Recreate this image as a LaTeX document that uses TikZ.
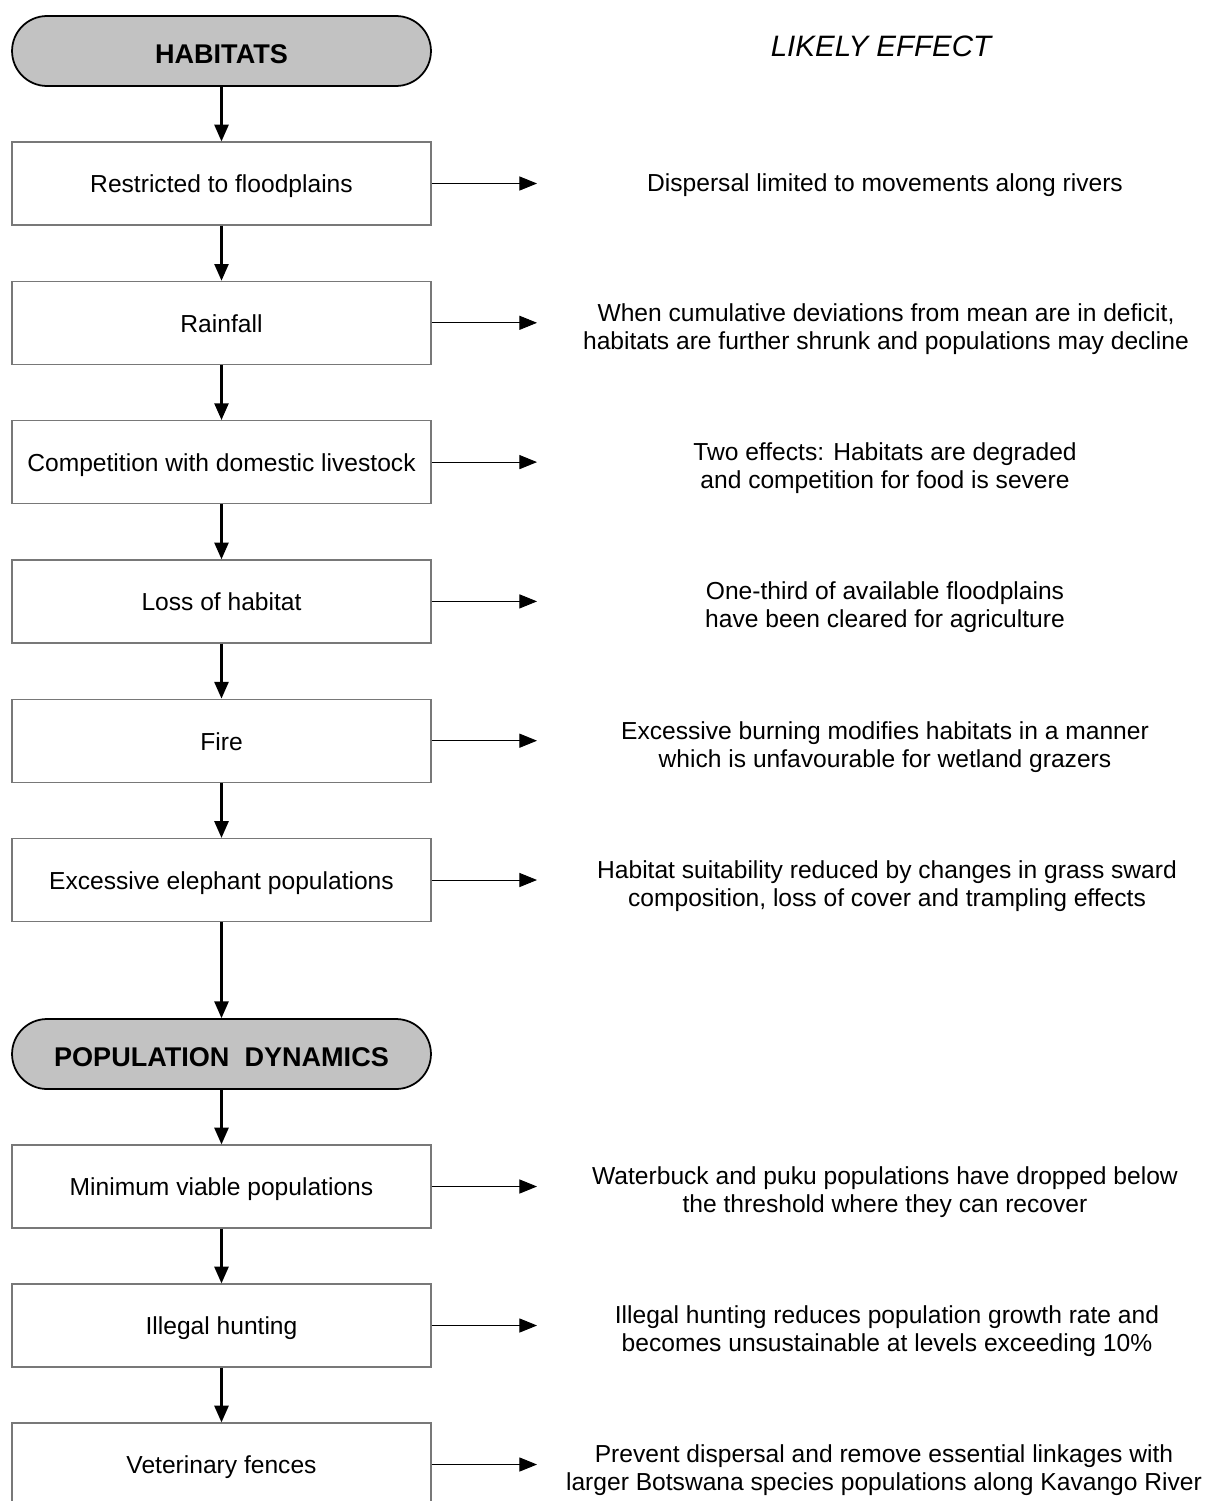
\documentclass[tikz,border=0pt]{standalone}
\usepackage{fontspec}
\setmainfont{Liberation Sans}
\usepackage{tikz}
\usetikzlibrary{arrows.meta, positioning}
\definecolor{pillgray}{RGB}{194, 194, 194}
\definecolor{boxline}{RGB}{120, 120, 120}
\tikzstyle{factor} = [rectangle, draw=boxline, line width=0.7pt, minimum width=8.38cm, minimum height=1.66cm, text centered, text height=12pt, text depth=1.3pt, font=\fontsize{14}{16}\selectfont]
\tikzstyle{heading} = [rectangle, rounded corners=0.7cm, draw=black, line width=1pt, fill=pillgray, minimum width=8.38cm, minimum height=1.4cm, text centered, text height=14.5pt, text depth=0pt, font=\fontsize{15.4}{18}\selectfont\bfseries]
\tikzstyle{effect} = [align=center, inner sep=0pt, font=\fontsize{14}{16}\selectfont]
\tikzstyle{arrow} = [line width=1.3pt, -{Triangle[length=9.5pt, width=8pt]}]
\tikzstyle{sidearrow} = [line width=0.5pt, -{Triangle[length=10pt, width=8pt]}]

\begin{document}
\begin{tikzpicture}[x=0.02cm, y=-0.02cm]
    \clip (0, 0) rectangle (1206, 1501);

    % Habitats
    \node[heading] (habitats) at (221.5, 51) {HABITATS};
    \node[font=\fontsize{16.8}{20}\selectfont\itshape] (likely) at (881, 46) {LIKELY EFFECT};

    \node[factor] (flood) at (221.5, 183.5) {Restricted to floodplains};
    \node[factor] (rain) at (221.5, 322.8) {Rainfall};
    \node[factor] (livestock) at (221.5, 462.1) {Competition with domestic livestock};
    \node[factor] (loss) at (221.5, 601.4) {Loss of habitat};
    \node[factor] (fire) at (221.5, 740.7) {Fire};
    \node[factor] (elephant) at (221.5, 880) {Excessive elephant populations};

    % Population dynamics
    \node[heading] (popdyn) at (221.5, 1054) {POPULATION\ \ DYNAMICS};
    \node[factor] (viable) at (221.5, 1186.5) {Minimum viable populations};
    \node[factor] (hunting) at (221.5, 1325.5) {Illegal hunting};
    \node[factor] (fences) at (221.5, 1464.5) {Veterinary fences};

    % Effects
    \node[effect] (eflood) at (885, 185) {Dispersal limited to movements along rivers};
    \node[effect] (erain) at (886, 329) {When cumulative deviations from mean are in deficit,\\habitats are further shrunk and populations may decline};
    \node[effect] (elivestock) at (885, 468) {Two effects: Habitats are degraded\\and competition for food is severe};
    \node[effect] (eloss) at (885, 607) {One-third of available floodplains\\have been cleared for agriculture};
    \node[effect] (efire) at (885, 747) {Excessive burning modifies habitats in a manner\\which is unfavourable for wetland grazers};
    \node[effect] (eelephant) at (887, 886) {Habitat suitability reduced by changes in grass sward\\composition, loss of cover and trampling effects};
    \node[effect] (eviable) at (885, 1192) {Waterbuck and puku populations have dropped below\\the threshold where they can recover};
    \node[effect] (ehunting) at (887, 1331) {Illegal hunting reduces population growth rate and\\becomes unsustainable at levels exceeding 10\%};
    \node[effect] (efences) at (884, 1470) {Prevent dispersal and remove essential linkages with\\larger Botswana species populations along Kavango River};

    % Arrow ends
    \coordinate (tflood) at (537, 183.5);
    \coordinate (train) at (537, 322.8);
    \coordinate (tlivestock) at (537, 462.1);
    \coordinate (tloss) at (537, 601.4);
    \coordinate (tfire) at (537, 740.7);
    \coordinate (telephant) at (537, 880);
    \coordinate (tviable) at (537, 1186.5);
    \coordinate (thunting) at (537, 1325.5);
    \coordinate (tfences) at (537, 1464.5);

    % Down the chain
    \draw[arrow] (habitats) -- (flood);
    \draw[arrow] (flood) -- (rain);
    \draw[arrow] (rain) -- (livestock);
    \draw[arrow] (livestock) -- (loss);
    \draw[arrow] (loss) -- (fire);
    \draw[arrow] (fire) -- (elephant);
    \draw[arrow] (elephant) -- (popdyn);
    \draw[arrow] (popdyn) -- (viable);
    \draw[arrow] (viable) -- (hunting);
    \draw[arrow] (hunting) -- (fences);

    % Across to effects
    \draw[sidearrow] (flood.east) -- (tflood);
    \draw[sidearrow] (rain.east) -- (train);
    \draw[sidearrow] (livestock.east) -- (tlivestock);
    \draw[sidearrow] (loss.east) -- (tloss);
    \draw[sidearrow] (fire.east) -- (tfire);
    \draw[sidearrow] (elephant.east) -- (telephant);
    \draw[sidearrow] (viable.east) -- (tviable);
    \draw[sidearrow] (hunting.east) -- (thunting);
    \draw[sidearrow] (fences.east) -- (tfences);
\end{tikzpicture}
\end{document}
